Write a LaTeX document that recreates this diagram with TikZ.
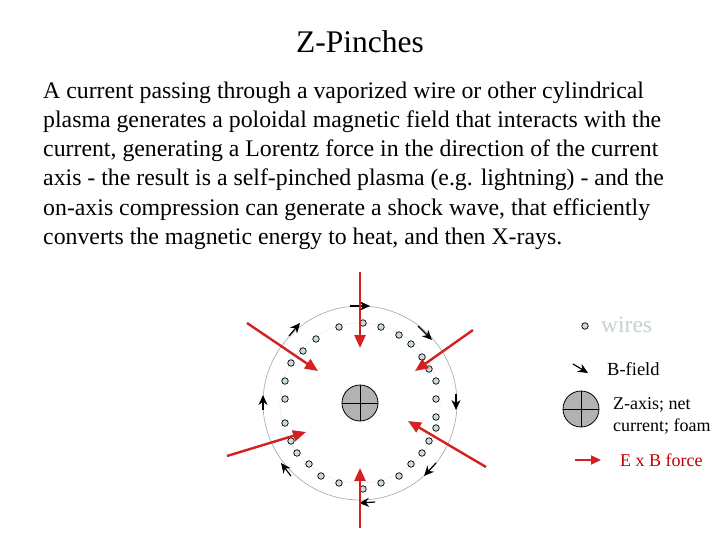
\documentclass[tikz,border=0pt]{standalone}
\usepackage{fontspec}
\setmainfont{Liberation Serif}
\usetikzlibrary{arrows.meta}
\definecolor{wirefill}{HTML}{C8DCDC}
\definecolor{forcered}{HTML}{D42020}
\definecolor{txtred}{HTML}{C00000}
\begin{document}
\begin{tikzpicture}[x=1pt,y=-1pt,
  wire/.style={circle,draw=black,fill=wirefill,inner sep=0pt,minimum size=6.5pt,line width=0.7pt},
  bfield/.style={-{Stealth[length=10pt,width=9pt]},line width=1.2pt},
  force/.style={forcered,line width=2.4pt,-{Triangle[length=13pt,width=11pt]}},
  body/.style={anchor=base west,inner sep=0pt,font=\fontsize{23.8}{28}\selectfont},
  axis/.style={circle,draw=black,fill=gray!60,minimum size=36pt,inner sep=0pt,line width=0.8pt}]
\useasboundingbox (0,0) rectangle (720,540);
\fill[white] (0,0) rectangle (720,540);
\node (title) at (360,42) {\fontsize{31.5}{36}\selectfont Z-Pinches};
\node[body] (l1) at (43,99) {A current passing through a vaporized wire or other cylindrical};
\node[body] (l2) at (43,128) {plasma generates a poloidal magnetic field that interacts with the};
\node[body] (l3) at (43,157) {current, generating a Lorentz force in the direction of the current};
\node[body] (l4) at (43,186) {axis - the result is a self-pinched plasma (e.g. lightning) - and the};
\node[body] (l5) at (43,215) {on-axis compression can generate a shock wave, that efficiently};
\node[body] (l6) at (43,244) {converts the magnetic energy to heat, and then X-rays.};
% circles
\coordinate (c) at (360,403);
\draw[gray!70,line width=0.6pt] (c) circle (97);
\draw[gray!20,line width=0.4pt] (c) circle (80);
\node[axis] (z) at (c) {};
\draw[line width=0.8pt] (z.north) -- (z.south) (z.west) -- (z.east);
% wires
\foreach \p [count=\i] in {(363,323),(381,327),(399,335),(411,344),(422,357),(429,369),(436,381),(436,399),(436,417),(436,428),(429,441),(422,453),(411,464),(399,476),(381,483),(363,489),(339,483),(321,476),(309,464),(297,453),(291,441),(285,423),(285,399),(285,381),(291,363),(303,351),(316,339),(339,327)}
  \node[wire] (w\i) at \p {};
% B-field arrows
\coordinate (b1s) at (350,306); \coordinate (b1e) at (370,306);
\coordinate (b2s) at (418,326); \coordinate (b2e) at (432,340);
\coordinate (b3s) at (456,394); \coordinate (b3e) at (456,410);
\coordinate (b4s) at (436,463); \coordinate (b4e) at (424,476);
\coordinate (b5s) at (375,502); \coordinate (b5e) at (359,503);
\coordinate (b6s) at (291,476); \coordinate (b6e) at (281,463);
\coordinate (b7s) at (263,410); \coordinate (b7e) at (263,395);
\coordinate (b8s) at (289,336); \coordinate (b8e) at (300,323);
\foreach \k in {1,...,8} \draw[bfield] (b\k s) -- (b\k e);
% force arrows
\coordinate (f1s) at (360,272); \coordinate (f1e) at (360,348);
\coordinate (f2s) at (247,323); \coordinate (f2e) at (318,371);
\coordinate (f3s) at (473,330); \coordinate (f3e) at (415,371);
\coordinate (f4s) at (227,456); \coordinate (f4e) at (306,432);
\coordinate (f5s) at (486,467); \coordinate (f5e) at (408,421);
\coordinate (f6s) at (360,528); \coordinate (f6e) at (360,468);
\foreach \k in {1,...,6} \draw[force] (f\k s) -- (f\k e);
% legend
\node[wire] (lw) at (585,326) {};
\node[anchor=west,inner sep=0pt,text=wirefill!90!gray,font=\fontsize{23.5}{28}\selectfont] (lwt) at (601,325) {wires};
\coordinate (lbs) at (573,364); \coordinate (lbe) at (588,373);
\draw[bfield] (lbs) -- (lbe);
\node[anchor=west,inner sep=0pt,font=\fontsize{18.5}{22}\selectfont] (lbt) at (607,369) {B-field};
\node[axis] (lz) at (581,409) {};
\draw[line width=0.8pt] (lz.north) -- (lz.south) (lz.west) -- (lz.east);
\node[anchor=west,inner sep=0pt,align=left,font=\fontsize{18}{22}\selectfont] (lzt) at (613,416) {Z-axis; net\\current; foam};
\coordinate (lfs) at (575,460); \coordinate (lfe) at (601,460);
\draw[forcered,line width=2pt,-{Triangle[length=10pt,width=9pt]}] (lfs) -- (lfe);
\node[anchor=west,inner sep=0pt,text=txtred,font=\fontsize{18}{22}\selectfont] (lft) at (620,460) {E x B force};
\end{tikzpicture}
\end{document}
